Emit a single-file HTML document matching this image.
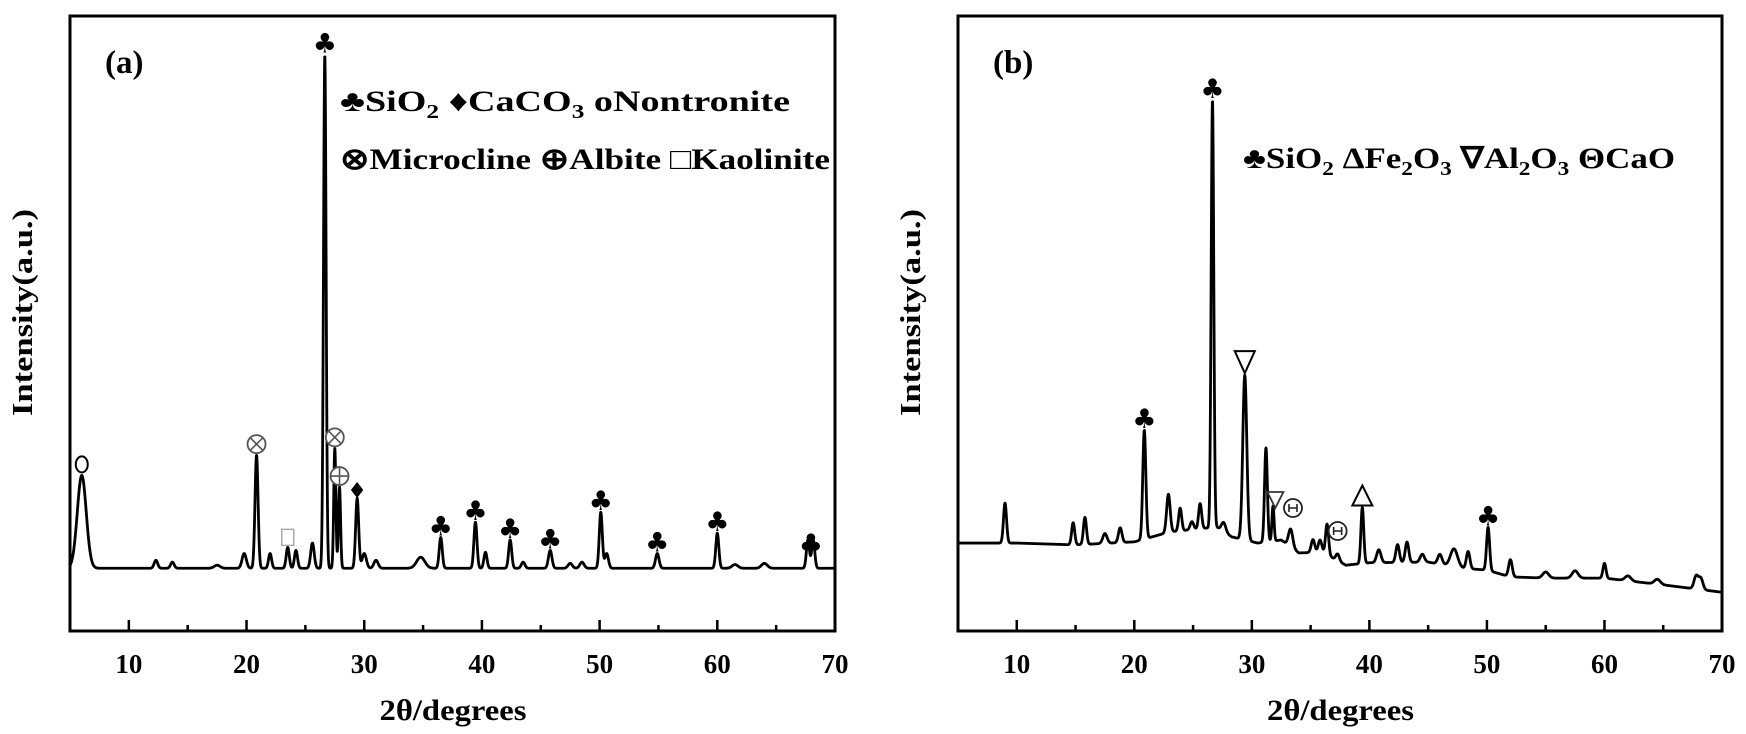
<!DOCTYPE html>
<html><head><meta charset="utf-8"><style>
html,body{margin:0;padding:0;background:#fff;}
svg{display:block;font-family:"Liberation Serif",serif;}
</style></head><body>
<svg id="fig" width="1746" height="734" viewBox="0 0 1746 734" xmlns="http://www.w3.org/2000/svg">
<g id="pa"></g>
<g id="pb"></g>
</svg>
<script>
// ---------- Panel (a) data ----------
const aBaseline = 10.2;
const aPeakPos = [6.0,12.3,13.7,17.5,19.8,20.85,22.0,23.5,24.2,25.6,26.65,27.5,27.9,29.4,30.0,31.0,34.8,36.5,39.45,40.3,42.4,43.5,45.8,47.5,48.5,50.1,50.6,54.9,60.0,61.5,64.0,67.7,68.15];
const aPeakHeight = [15.1,1.3,1.0,0.5,2.4,18.4,2.4,3.4,2.9,4.1,83.5,19.5,13.2,11.4,2.4,1.3,1.8,5.0,7.5,2.6,4.6,1.0,2.9,0.8,1.0,9.1,2.4,2.4,5.7,0.6,0.8,4.6,4.6];
const aPeakWidth = [0.38,0.15,0.15,0.25,0.18,0.13,0.13,0.13,0.13,0.15,0.11,0.09,0.09,0.13,0.18,0.18,0.35,0.13,0.13,0.13,0.13,0.15,0.15,0.18,0.18,0.13,0.15,0.15,0.13,0.25,0.25,0.13,0.13];
const aMarkerPos = [6.0,20.85,23.5,26.65,27.5,27.9,29.4,36.5,39.45,42.4,45.8,50.1,54.9,60.0,67.95];
const aMarkerType = ["ring","otimes","square","club","otimes","oplus","diamond","club","club","club","club","club","club","club","club"];

// ---------- Panel (b) data ----------
const bBasePos = [5,10,15,20,23,27,28.3,30.5,32.5,34,36,38,40,45,48,50,52,55,60,65,70];
const bBaseVal = [14.3,14.3,14.0,14.5,16.1,16.9,15.3,14.3,14.8,12.7,12.8,10.7,11.1,11.2,10.2,9.9,8.8,8.6,8.6,7.5,6.3];
const bPeakPos = [9.0,14.8,15.8,17.5,18.8,20.85,22.9,23.9,24.9,25.6,26.65,27.6,29.4,31.2,31.8,33.3,35.2,35.8,36.4,37.3,39.4,40.8,42.4,43.2,44.5,46.0,47.2,48.4,50.1,52.0,55.0,57.5,60.0,62.0,64.5,67.8,68.2];
const bPeakHeight = [6.5,3.6,4.4,1.6,2.4,17.7,6.2,3.7,1.3,4.1,69.5,1.5,26.8,15.3,5.7,2.9,2.1,2.0,5.0,1.1,9.1,2.1,2.9,3.3,1.3,1.6,2.9,2.8,7.0,2.8,1.0,1.2,2.4,0.8,0.8,2.1,1.8];
const bPeakWidth = [0.13,0.13,0.13,0.18,0.15,0.13,0.15,0.13,0.15,0.13,0.11,0.18,0.17,0.12,0.09,0.18,0.15,0.15,0.13,0.15,0.12,0.18,0.15,0.15,0.18,0.18,0.3,0.15,0.13,0.15,0.25,0.25,0.13,0.25,0.25,0.18,0.18];
const bMarkerPos = [20.85,26.65,29.4,32.0,33.5,37.3,39.4,50.1];
const bMarkerType = ["club","club","nabla","nablaSmall","theta","theta","delta","club"];
const bMarkerY = [null,null,null,508,517,540,null,null];

const xTicksMajor = [10,20,30,40,50,60,70];
const xTicksMinor = [15,25,35,45,55,65];

const NS = "http://www.w3.org/2000/svg";
const TOP = 16, BOT = 631;
function yScale(v){ return BOT - v * (BOT - TOP) / 100; }
function mkX(left,right){ return t => left + (t - 5) * (right - left) / 65; }
function el(tag, attrs, parent){ const e=document.createElementNS(NS,tag); for(const k in attrs) e.setAttribute(k,attrs[k]); parent.appendChild(e); return e; }

function interp(xs, ys, t){
  if(t<=xs[0]) return ys[0];
  for(let i=1;i<xs.length;i++){ if(t<=xs[i]){ const f=(t-xs[i-1])/(xs[i]-xs[i-1]); return ys[i-1]+f*(ys[i]-ys[i-1]); } }
  return ys[ys.length-1];
}
function intensity(t, baseFn, pos, h, w){
  let v = baseFn(t);
  for(let i=0;i<pos.length;i++){ const d=(t-pos[i])/w[i]; if(Math.abs(d)<8) v += h[i]*Math.exp(-0.5*d*d); }
  return v;
}

function drawPanel(g, left, right, label, baseFn, pos, h, w, mPos, mType, mY, legendLines, legendLens, legendX, legendY){
  const xs = mkX(left,right);
  const frame = el("rect",{x:left,y:TOP,width:right-left,height:BOT-TOP,fill:"none",stroke:"#000","stroke-width":3},g);
  
  
  xTicksMajor.forEach(t=>{
    const l=el("line",{x1:xs(t),x2:xs(t),y1:BOT,y2:BOT-11,stroke:"#000","stroke-width":2.5},g);
    
    
    const tx=el("text",{x:xs(t),y:673,"text-anchor":"middle","font-size":27,"font-weight":"bold"},g);
    tx.textContent=t;
    
    
  });
  xTicksMinor.forEach(t=>{
    const l=el("line",{x1:xs(t),x2:xs(t),y1:BOT,y2:BOT-6,stroke:"#000","stroke-width":2.5},g);
    
    
  });
  const xt=el("text",{x:(left+right)/2-73,y:720,"font-size":30,"font-weight":"bold",textLength:147,lengthAdjust:"spacingAndGlyphs"},g);
  xt.textContent="2θ/degrees";
  
  
  const yt=el("text",{x:-103,y:0,"font-size":29,"font-weight":"bold",textLength:207,lengthAdjust:"spacingAndGlyphs",transform:`translate(${left-38},313) rotate(-90)`},g);
  yt.textContent="Intensity(a.u.)";
  
  
  const pl=el("text",{x:left+35,y:73,"font-size":33,"font-weight":"bold"},g);
  pl.textContent=label;
  
  
  let d="";
  for(let t=5.0;t<=70.0001;t+=0.02){
    const v=intensity(t,baseFn,pos,h,w);
    d += (d?"L":"M")+xs(t).toFixed(2)+","+yScale(v).toFixed(2);
  }
  const path=el("path",{d:d,fill:"none",stroke:"#000","stroke-width":2.8,"stroke-linejoin":"round"},g);
  
  
  mPos.forEach((p,i)=>{
    const px=xs(p);
    const top = (mY && mY[i]!=null) ? mY[i] : yScale(intensity(p,baseFn,pos,h,w)) - 2;
    const typ=mType[i];
    const mg=el("g",{},g);
    
    
    if(typ==="club"){ const t=el("text",{x:px,y:top,"text-anchor":"middle","font-size":27,"font-family":"DejaVu Sans, sans-serif"},mg); t.textContent="♣"; }
    else if(typ==="diamond"){ const t=el("text",{x:px,y:top+2,"text-anchor":"middle","font-size":22,"font-family":"DejaVu Sans, sans-serif"},mg); t.textContent="♦"; }
    else if(typ==="ring"){ el("ellipse",{cx:px,cy:top-9,rx:6,ry:8,fill:"none",stroke:"#000","stroke-width":2},mg); }
    else if(typ==="otimes"||typ==="oplus"||typ==="theta"){
      const r=9, cy=top-r; const col=typ==="theta"?"#222":"#555";
      el("circle",{cx:px,cy:cy,r:r,fill:"#fff",stroke:col,"stroke-width":1.8},mg);
      if(typ==="otimes"){ el("path",{d:`M${px-6},${cy-6}L${px+6},${cy+6}M${px+6},${cy-6}L${px-6},${cy+6}`,stroke:col,"stroke-width":1.6},mg); }
      else if(typ==="oplus"){ el("path",{d:`M${px-9},${cy}L${px+9},${cy}M${px},${cy-9}L${px},${cy+9}`,stroke:col,"stroke-width":1.6},mg); }
      else { el("path",{d:`M${px-4},${cy}L${px+4},${cy}M${px-4},${cy-4}L${px-4},${cy+4}M${px+4},${cy-4}L${px+4},${cy+4}`,stroke:col,"stroke-width":1.6},mg); }
    }
    else if(typ==="square"){ el("rect",{x:px-6,y:top-16,width:12,height:16,fill:"none",stroke:"#aaa","stroke-width":1.5},mg); }
    else if(typ==="nabla"){ el("path",{d:`M${px-10},${top-22}L${px+10},${top-22}L${px},${top}Z`,fill:"#fff",stroke:"#000","stroke-width":2},mg); }
    else if(typ==="nablaSmall"){ el("path",{d:`M${px-8},${top-16}L${px+8},${top-16}L${px},${top}Z`,fill:"#fff",stroke:"#333","stroke-width":1.8},mg); }
    else if(typ==="delta"){ el("path",{d:`M${px-10},${top}L${px+10},${top}L${px},${top-20}Z`,fill:"#fff",stroke:"#000","stroke-width":2},mg); }
  });
  legendLines.forEach((html,i)=>{
    const t=el("text",{x:legendX,y:legendY+i*58,"font-size":30,"font-weight":"bold",textLength:legendLens[i],lengthAdjust:"spacingAndGlyphs"},g);
    t.innerHTML=html;
    
    
  });
}

const sub = s => `<tspan dy="7" font-size="20">${s}</tspan><tspan dy="-7">`;
drawPanel(document.getElementById("pa"),70,835,"(a)",()=>aBaseline,aPeakPos,aPeakHeight,aPeakWidth,aMarkerPos,aMarkerType,null,
  ["♣SiO"+sub("2")+" ♦CaCO"+sub("3")+"  oNontronite</tspan></tspan>","⊗Microcline ⊕Albite □Kaolinite"],[450,490],340,111);
drawPanel(document.getElementById("pb"),958,1722,"(b)",t=>interp(bBasePos,bBaseVal,t),bPeakPos,bPeakHeight,bPeakWidth,bMarkerPos,bMarkerType,bMarkerY,
  ["♣SiO"+sub("2")+" ΔFe"+sub("2")+"O"+sub("3")+" ∇Al"+sub("2")+"O"+sub("3")+" ΘCaO</tspan></tspan></tspan></tspan></tspan>"],[432],1243,168);
</script>
</body></html>
